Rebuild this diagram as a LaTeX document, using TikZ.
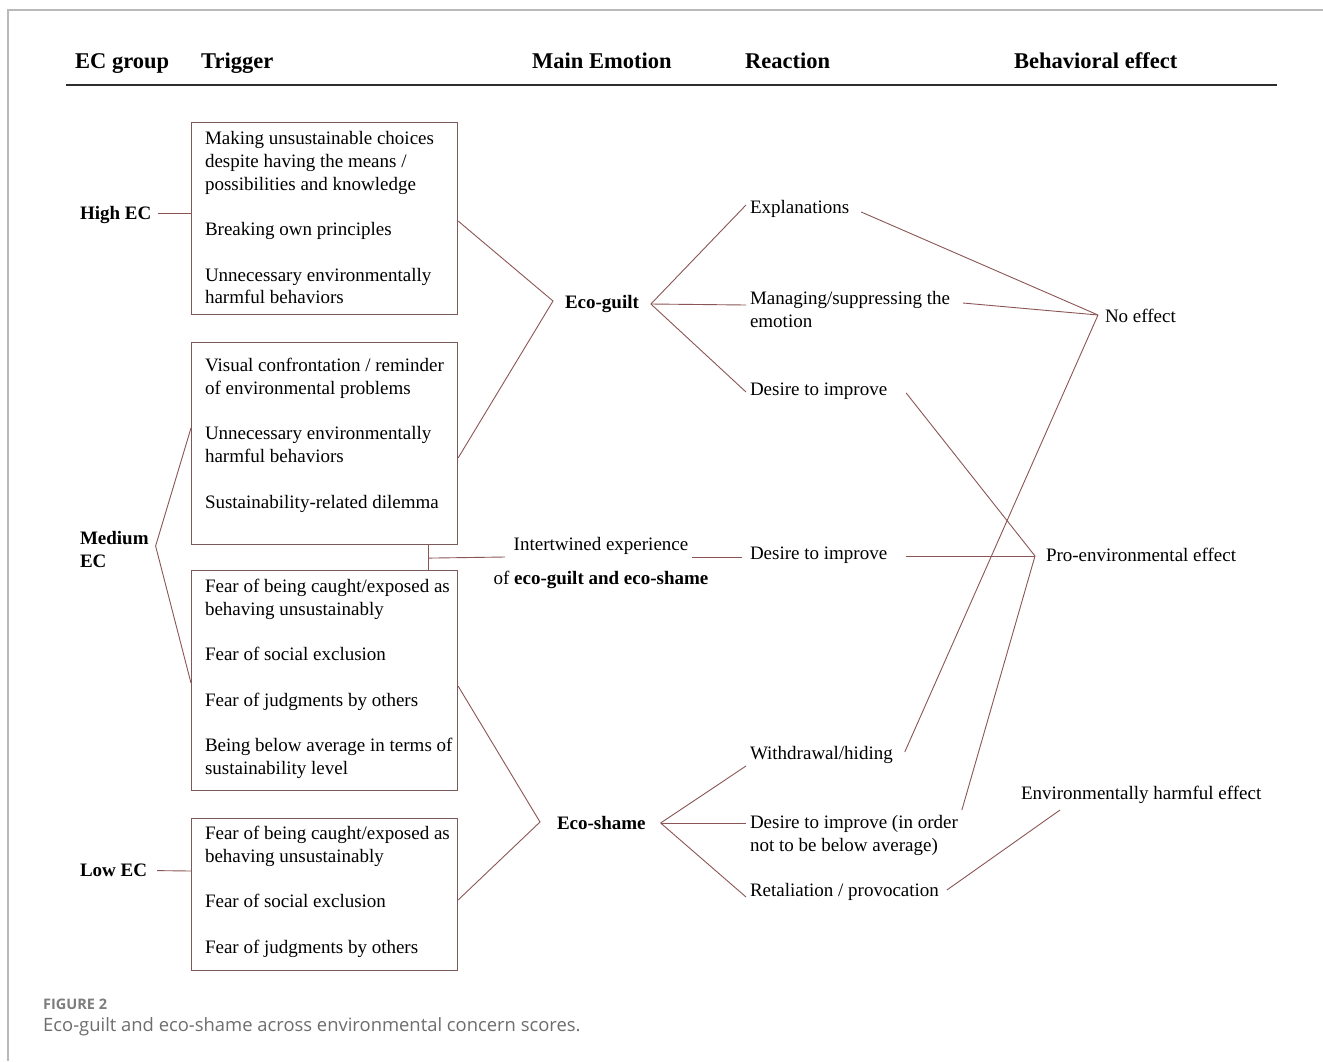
\documentclass[tikz,border=0pt]{standalone}
\usepackage{fontspec}
\setmainfont{Liberation Serif}
\newfontfamily\capfont{Open Sans}
\usetikzlibrary{calc}
\definecolor{lc}{RGB}{140,85,85}
\definecolor{bc}{RGB}{125,90,90}
\definecolor{fr}{RGB}{185,185,185}
\definecolor{rulec}{RGB}{45,45,45}
\definecolor{capc}{RGB}{110,110,110}
\definecolor{figc}{RGB}{125,125,125}
\begin{document}
\begin{tikzpicture}[x=1pt,y=-1pt,
  txt/.style={font=\fontsize{19}{22.7}\selectfont, inner sep=0pt, outer sep=0pt, anchor=north west, align=left},
  bold/.style={txt, font=\fontsize{19}{22.7}\selectfont\bfseries},
  hdr/.style={font=\fontsize{22.5}{26}\selectfont\bfseries, inner sep=0pt, anchor=base west},
  box/.style={draw=bc, line width=1.1pt, inner sep=0pt, anchor=north west, minimum width=266pt},
  lnk/.style={draw=lc, line width=0.9pt},
]
\fill[white] (0,0) rectangle (1323,1061);
\useasboundingbox (0,0) rectangle (1323,1061);
\draw[fr, line width=1.5pt] (1323,10) -- (8,10) -- (8,1061);

% headers
\node[hdr] (hEC) at (75,68) {EC group};
\node[hdr] (hTr) at (201,68) {Trigger};
\node[hdr] (hME) at (532,68) {Main Emotion};
\node[hdr] (hRe) at (745,68) {Reaction};
\node[hdr] (hBe) at (1014,68) {Behavioral effect};
\draw[rulec, line width=2.5pt] (66,85) -- (1277,85);

% boxes
\node[box, minimum height=192pt] (b1) at (191,122) {};
\node[box, minimum height=202pt] (b2) at (191,342) {};
\node[box, minimum height=220pt] (b3) at (191,570) {};
\node[box, minimum height=152pt] (b4) at (191,818) {};

\node[txt] (t1) at (205,129) {\strut Making unsustainable choices\\ despite having the means /\\ possibilities and knowledge\\[22.7pt] Breaking own principles\\[22.7pt] Unnecessary environmentally\\ harmful behaviors};
\node[txt] (t2) at (205,356) {\strut Visual confrontation / reminder\\ of environmental problems\\[22.7pt] Unnecessary environmentally\\ harmful behaviors\\[22.7pt] Sustainability-related dilemma};
\node[txt] (t3) at (205,576.6) {\strut Fear of being caught/exposed as\\ behaving unsustainably\\[22.7pt] Fear of social exclusion\\[22.7pt] Fear of judgments by others\\[22.7pt] Being below average in terms of\\ sustainability level};
\node[txt] (t4) at (205,823.6) {\strut Fear of being caught/exposed as\\ behaving unsustainably\\[22.7pt] Fear of social exclusion\\[22.7pt] Fear of judgments by others};

% EC groups
\node[bold] (high) at (80,203.6) {\strut High EC};
\node[bold] (med) at (80,528.6) {\strut Medium\\ EC};
\node[bold] (low) at (80,860.6) {\strut Low EC};

% emotions
\node[bold] (guilt) at (565,292.6) {\strut Eco-guilt};
\node[bold] (shame) at (557,813.6) {\strut Eco-shame};
\node[txt, anchor=north, align=center] (inter) at (601,534.6) {\strut Intertwined experience\\[11.3pt] of \textbf{eco-guilt and eco-shame}};

% reactions
\node[txt] (expl) at (750,197.6) {\strut Explanations};
\node[txt] (manag) at (750,288.6) {\strut Managing/suppressing the\\ emotion};
\node[txt] (des1) at (750,379.6) {\strut Desire to improve};
\node[txt] (desM) at (750,543.6) {\strut Desire to improve};
\node[txt] (withd) at (750,743.6) {\strut Withdrawal/hiding};
\node[txt] (desIO) at (750,812.6) {\strut Desire to improve (in order\\ not to be below average)};
\node[txt] (retal) at (750,880.6) {\strut Retaliation / provocation};

% effects
\node[txt] (noeff) at (1105,306.6) {\strut No effect};
\node[txt] (proenv) at (1046,545.6) {\strut Pro-environmental effect};
\node[txt] (harm) at (1021,783.6) {\strut Environmentally harmful effect};

% vertices
\coordinate (V) at ($(med.north east)+(7,17.4)$);
\coordinate (GL) at ($(guilt.north west)+(-12,8.4)$);
\coordinate (GR) at ($(guilt.north east)+(12,11.4)$);
\coordinate (SL) at ($(shame.north west)+(-17,8.4)$);
\coordinate (SR) at ($(shame.north east)+(15,9.4)$);
\coordinate (N) at ($(noeff.north west)+(-7,8.4)$);
\coordinate (P) at ($(proenv.north west)+(-11,10.4)$);
\coordinate (J) at ($(b2.south west)+(237,13)$);

% EC to boxes
\draw[lnk] ($(high.north east)+(7,9.4)$) -- ($(b1.north west)+(0,91)$);
\draw[lnk] ($(b2.north west)+(0,86)$) -- (V) -- ($(b3.north west)+(0,113)$);
\draw[lnk] ($(low.north east)+(10,10)$) -- ($(b4.north west)+(0,53)$);

% boxes to emotions
\draw[lnk] ($(b1.north east)+(0,99)$) -- (GL) -- ($(b2.north east)+(0,116)$);
\draw[lnk] ($(b3.north east)+(0,116)$) -- (SL) -- ($(b4.north east)+(0,82)$);
\draw[lnk] ($(b2.south west)+(237,0)$) -- ($(b3.north west)+(237,0)$);
\draw[lnk] (J) -- ($(inter.north)+(-96,22.4)$);
\draw[lnk] ($(inter.north)+(91,22.4)$) -- ($(desM.north west)+(-8,13.4)$);

% emotions to reactions
\draw[lnk] (GR) -- ($(expl.north west)+(-4,7.4)$);
\draw[lnk] (GR) -- ($(manag.north west)+(-4,16.4)$);
\draw[lnk] (GR) -- ($(des1.north west)+(-4,12.4)$);
\draw[lnk] (SR) -- ($(withd.north west)+(-4,22.4)$);
\draw[lnk] (SR) -- ($(desIO.north west)+(-4,10.4)$);
\draw[lnk] (SR) -- ($(retal.north west)+(-4,16.4)$);

% reactions to effects
\draw[lnk] ($(expl.north east)+(12,14.4)$) -- (N);
\draw[lnk] ($(manag.north east)+(13,14.4)$) -- (N);
\draw[lnk] ($(withd.north east)+(12,8.4)$) -- (N);
\draw[lnk] ($(des1.north east)+(19,13.4)$) -- (P);
\draw[lnk] ($(desM.north east)+(19,12.4)$) -- (P);
\draw[lnk] ($(desIO.north east)+(4,-2.6)$) -- (P);
\draw[lnk] ($(retal.north east)+(8,9.4)$) -- ($(harm.north west)+(39,26.4)$);

% caption
\node[font=\capfont\bfseries\fontsize{14.5}{17}\selectfont, text=figc, anchor=west, inner sep=0pt] (fig) at (43,1004) {FIGURE 2};
\node[font=\capfont\fontsize{18.4}{22}\selectfont, text=capc, anchor=west, inner sep=0pt] (cap) at (43,1027) {Eco-guilt and eco-shame across environmental concern scores.};
\end{tikzpicture}
\end{document}
